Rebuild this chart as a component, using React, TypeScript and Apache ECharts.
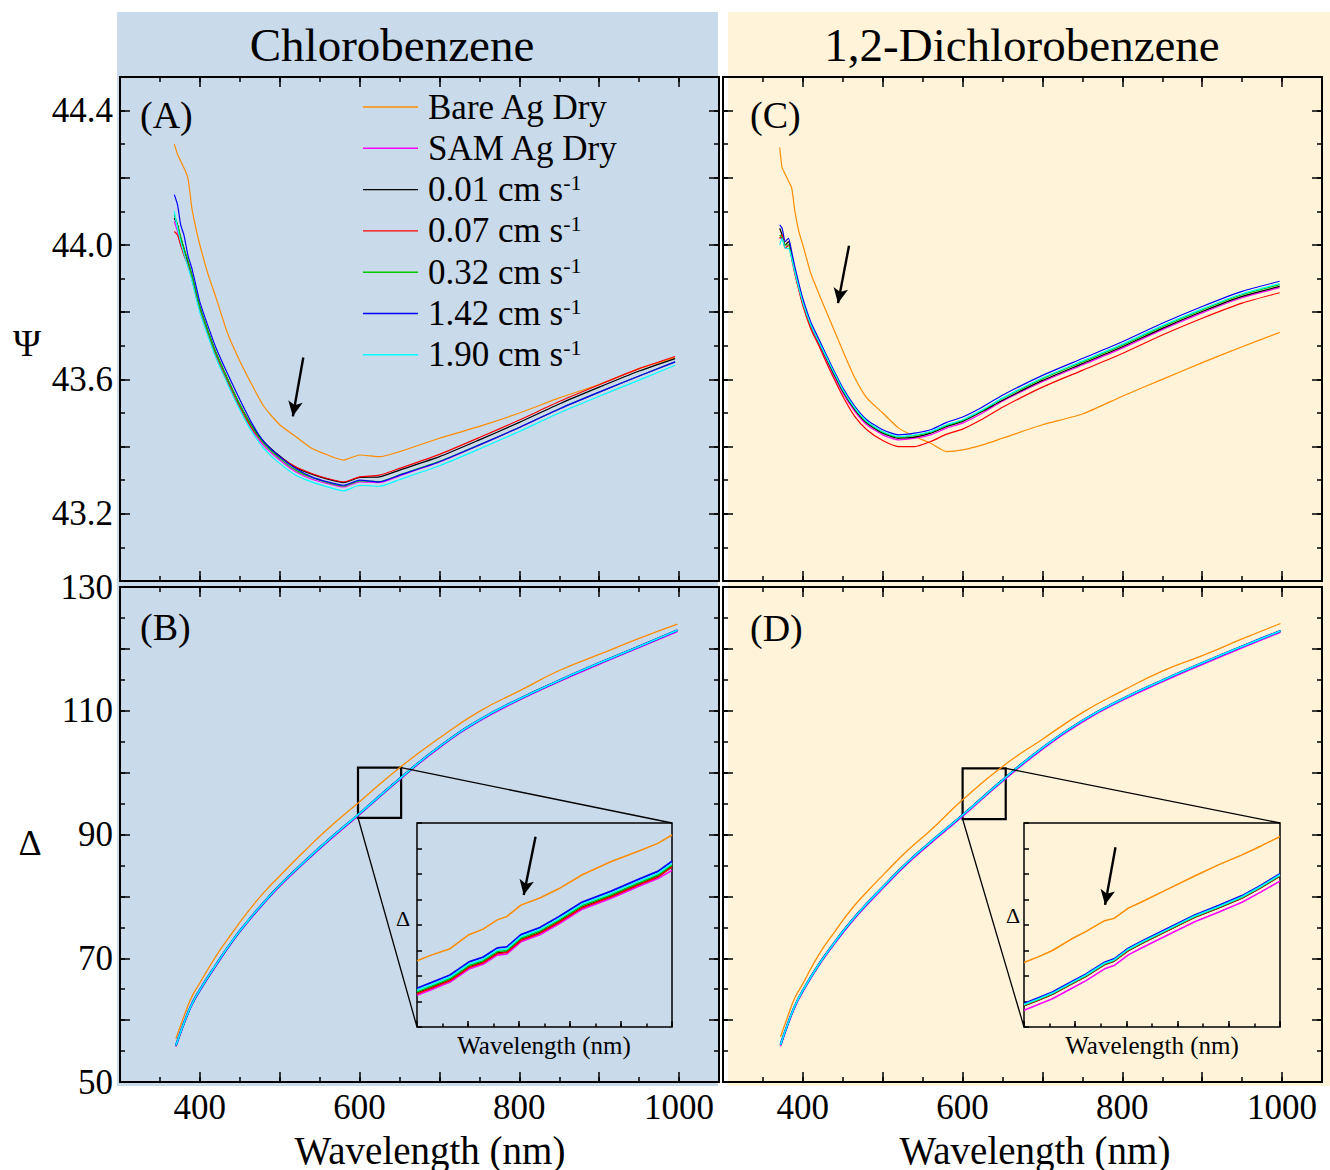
import React, { useEffect, useRef } from "react";
import * as echarts from "echarts";

const FONT = "'Liberation Serif', 'Times New Roman', Times, serif";

const SERIES_NAMES = ["Bare Ag Dry", "SAM Ag Dry", "0.01 cm s-1", "0.07 cm s-1", "0.32 cm s-1", "1.42 cm s-1", "1.90 cm s-1"];
const SERIES_COLORS = ["#ff8c00", "#ff00ff", "#000000", "#ff0000", "#00c800", "#0000ff", "#00ffff"];

const PANEL_TITLES = ["Chlorobenzene", "1,2-Dichlorobenzene"];
const PANEL_LETTERS = ["(A)", "(B)", "(C)", "(D)"];

const X_TICK_LABELS = [400, 600, 800, 1000];
const PSI_TICK_LABELS = [43.2, 43.6, 44.0, 44.4];
const DELTA_TICK_LABELS = [50, 70, 90, 110, 130];

// ---------- Panel A : Psi, chlorobenzene ----------
const PSI_WL_A = [368, 372, 376, 380, 385, 390, 395, 400, 410, 420, 435, 450, 465, 480, 500, 520, 540, 560, 580, 600, 625, 650, 700, 750, 800, 850, 900, 950, 995];
const PSI_A_BARE = [44.30, 44.27, 44.25, 44.23, 44.20, 44.11, 44.05, 44.00, 43.915, 43.845, 43.735, 43.655, 43.585, 43.52, 43.465, 43.43, 43.395, 43.375, 43.36, 43.375, 43.37, 43.385, 43.425, 43.46, 43.50, 43.545, 43.585, 43.632, 43.665];
const PSI_A_SAM = [44.07, 44.04, 44.00, 43.975, 43.94, 43.90, 43.85, 43.805, 43.735, 43.67, 43.59, 43.515, 43.452, 43.403, 43.36, 43.325, 43.303, 43.29, 43.28, 43.295, 43.293, 43.313, 43.354, 43.404, 43.457, 43.512, 43.562, 43.61, 43.652];
const PSI_A_001 = [44.08, 44.06, 44.02, 43.99, 43.95, 43.91, 43.86, 43.815, 43.745, 43.68, 43.60, 43.525, 43.462, 43.415, 43.372, 43.338, 43.318, 43.303, 43.293, 43.308, 43.31, 43.33, 43.37, 43.42, 43.472, 43.527, 43.577, 43.625, 43.662];
const PSI_A_007 = [44.04, 44.03, 44.00, 43.97, 43.94, 43.90, 43.85, 43.805, 43.735, 43.67, 43.59, 43.515, 43.455, 43.41, 43.37, 43.34, 43.32, 43.305, 43.295, 43.31, 43.315, 43.335, 43.377, 43.427, 43.479, 43.534, 43.584, 43.632, 43.668];
const PSI_A_032 = [44.09, 44.06, 44.025, 43.99, 43.955, 43.91, 43.865, 43.815, 43.745, 43.68, 43.60, 43.525, 43.46, 43.41, 43.365, 43.33, 43.308, 43.293, 43.283, 43.298, 43.296, 43.316, 43.356, 43.405, 43.457, 43.512, 43.562, 43.61, 43.652];
const PSI_A_142 = [44.15, 44.12, 44.06, 44.03, 43.97, 43.93, 43.88, 43.83, 43.76, 43.695, 43.615, 43.54, 43.47, 43.415, 43.37, 43.335, 43.31, 43.295, 43.285, 43.30, 43.295, 43.315, 43.355, 43.405, 43.457, 43.512, 43.562, 43.61, 43.652];
const PSI_A_190 = [44.10, 44.05, 44.01, 43.975, 43.935, 43.895, 43.845, 43.80, 43.73, 43.665, 43.585, 43.51, 43.445, 43.395, 43.35, 43.315, 43.295, 43.28, 43.268, 43.285, 43.282, 43.302, 43.343, 43.393, 43.445, 43.50, 43.55, 43.598, 43.642];

// ---------- Panel C : Psi, 1,2-dichlorobenzene ----------
const PSI_WL_C = [371, 374, 378, 382, 386, 390, 395, 400, 410, 420, 435, 450, 465, 480, 500, 520, 540, 560, 580, 600, 625, 650, 700, 750, 800, 850, 900, 950, 997];
const PSI_C_BARE = [44.29, 44.23, 44.21, 44.19, 44.17, 44.10, 44.04, 44.00, 43.915, 43.855, 43.77, 43.685, 43.605, 43.545, 43.50, 43.455, 43.43, 43.41, 43.385, 43.39, 43.405, 43.425, 43.465, 43.497, 43.55, 43.60, 43.65, 43.697, 43.74];
const PSI_C_SAM = [44.02, 44.02, 43.99, 44.00, 43.96, 43.915, 43.868, 43.822, 43.755, 43.705, 43.63, 43.56, 43.505, 43.465, 43.435, 43.42, 43.425, 43.435, 43.455, 43.47, 43.50, 43.535, 43.593, 43.643, 43.693, 43.748, 43.798, 43.843, 43.873];
const PSI_C_001 = [44.05, 44.03, 44.00, 44.01, 43.97, 43.925, 43.875, 43.83, 43.76, 43.71, 43.635, 43.565, 43.51, 43.47, 43.44, 43.425, 43.428, 43.44, 43.46, 43.475, 43.505, 43.538, 43.597, 43.647, 43.697, 43.752, 43.802, 43.847, 43.877];
const PSI_C_007 = [44.02, 44.03, 43.99, 44.00, 43.96, 43.915, 43.865, 43.82, 43.75, 43.70, 43.622, 43.55, 43.49, 43.45, 43.418, 43.40, 43.40, 43.415, 43.437, 43.452, 43.482, 43.517, 43.577, 43.627, 43.677, 43.732, 43.782, 43.827, 43.858];
const PSI_C_032 = [44.03, 44.02, 44.00, 44.00, 43.965, 43.92, 43.875, 43.83, 43.762, 43.712, 43.638, 43.568, 43.513, 43.473, 43.443, 43.428, 43.433, 43.443, 43.463, 43.478, 43.508, 43.543, 43.602, 43.652, 43.702, 43.757, 43.807, 43.852, 43.882];
const PSI_C_142 = [44.06, 44.05, 44.01, 44.02, 43.98, 43.935, 43.885, 43.84, 43.77, 43.72, 43.645, 43.575, 43.52, 43.48, 43.45, 43.435, 43.44, 43.45, 43.472, 43.488, 43.518, 43.553, 43.612, 43.662, 43.712, 43.767, 43.817, 43.862, 43.892];
const PSI_C_190 = [44.00, 44.02, 43.99, 43.99, 43.96, 43.92, 43.872, 43.828, 43.762, 43.712, 43.64, 43.57, 43.515, 43.475, 43.445, 43.43, 43.435, 43.445, 43.465, 43.48, 43.51, 43.545, 43.605, 43.655, 43.705, 43.76, 43.81, 43.855, 43.885];

// ---------- Panel B : Delta, chlorobenzene ----------
const DELTA_WL_B = [370, 380, 390, 400, 420, 440, 460, 480, 500, 530, 560, 600, 650, 700, 750, 800, 850, 900, 950, 998];
const DELTA_B_BARE = [57.0, 60.6, 63.8, 66.0, 70.3, 74.0, 77.5, 80.6, 83.3, 87.2, 90.9, 95.3, 100.8, 105.6, 109.9, 113.2, 116.5, 119.1, 121.7, 124.0];
const DELTA_B_SAM = [55.7, 59.3, 62.4, 64.7, 68.7, 72.5, 75.8, 78.8, 81.6, 85.3, 88.8, 93.2, 98.8, 104.0, 108.3, 111.7, 114.7, 117.5, 120.2, 122.8];
const DELTA_B_FLOW = [55.9, 59.5, 62.6, 64.9, 68.9, 72.7, 76.0, 79.0, 81.8, 85.5, 89.0, 93.4, 99.0, 104.2, 108.5, 111.9, 114.9, 117.7, 120.4, 123.0];

// ---------- Panel D : Delta, 1,2-dichlorobenzene ----------
const DELTA_WL_D = [372, 380, 390, 400, 420, 440, 460, 480, 500, 530, 560, 600, 650, 700, 750, 800, 850, 900, 950, 998];
const DELTA_D_BARE = [57.3, 60.2, 63.6, 65.9, 70.6, 74.3, 77.8, 80.7, 83.4, 87.3, 90.7, 95.6, 101.0, 105.4, 109.7, 113.2, 116.4, 118.9, 121.6, 124.1];
const DELTA_D_SAM = [55.75, 58.75, 62.05, 64.55, 68.75, 72.35, 75.65, 78.55, 81.25, 85.15, 88.55, 92.9, 98.55, 103.75, 108.15, 111.65, 114.65, 117.45, 120.15, 122.65];
const DELTA_D_FLOW = [56.0, 59.0, 62.3, 64.8, 69.0, 72.6, 75.9, 78.8, 81.5, 85.4, 88.8, 93.15, 98.8, 104.0, 108.4, 111.9, 114.9, 117.7, 120.4, 122.9];

// ---------- Inset of B (zoom box) ----------
const BOX_B = [598, 652, 92.7, 100.8]; // xmin, xmax, ymin, ymax
const INSET_B_X = [596, 650]; // wavelength span shown in inset
const INSET_Y = [93, 101];
const INSET_B_WL = [596, 599, 603, 607, 610, 613, 615, 618, 622, 626, 631, 637, 643, 647, 650];
const INSET_B_BARE = [95.60, 95.82, 96.07, 96.62, 96.84, 97.20, 97.33, 97.78, 98.06, 98.42, 98.97, 99.48, 99.90, 100.20, 100.53];
const INSET_B_SAM = [94.24, 94.46, 94.76, 95.27, 95.46, 95.82, 95.86, 96.34, 96.62, 97.04, 97.62, 98.04, 98.52, 98.82, 99.14];
const INSET_B_001 = [94.32, 94.54, 94.84, 95.35, 95.54, 95.90, 95.94, 96.42, 96.70, 97.12, 97.70, 98.12, 98.60, 98.90, 99.30];
const INSET_B_007 = [94.30, 94.52, 94.82, 95.33, 95.52, 95.88, 95.92, 96.40, 96.68, 97.10, 97.68, 98.10, 98.58, 98.88, 99.28];
const INSET_B_032 = [94.38, 94.60, 94.90, 95.41, 95.60, 95.96, 96.00, 96.48, 96.76, 97.18, 97.76, 98.18, 98.66, 98.96, 99.36];
const INSET_B_142 = [94.52, 94.74, 95.04, 95.55, 95.74, 96.10, 96.14, 96.62, 96.90, 97.32, 97.90, 98.32, 98.80, 99.10, 99.50];
const INSET_B_190 = [94.44, 94.66, 94.96, 95.47, 95.66, 96.02, 96.06, 96.54, 96.82, 97.24, 97.82, 98.24, 98.72, 99.02, 99.42];

// ---------- Inset of D ----------
const BOX_D = [600, 654, 92.5, 100.7];
const INSET_D_X = [600, 654];
const INSET_D_WL = [600, 603, 606, 610, 613, 617, 619, 622, 625, 630, 636, 641, 646, 650, 654];
const INSET_D_BARE = [95.53, 95.75, 96.00, 96.45, 96.74, 97.17, 97.26, 97.66, 97.92, 98.38, 98.92, 99.36, 99.75, 100.10, 100.47];
const INSET_D_SAM = [93.66, 93.88, 94.11, 94.51, 94.81, 95.28, 95.41, 95.83, 96.12, 96.58, 97.13, 97.50, 97.89, 98.30, 98.72];
const INSET_D_001 = [93.83, 94.05, 94.28, 94.68, 94.98, 95.45, 95.58, 96.00, 96.29, 96.75, 97.30, 97.67, 98.06, 98.47, 98.92];
const INSET_D_007 = [93.84, 94.06, 94.29, 94.69, 94.99, 95.46, 95.59, 96.01, 96.30, 96.76, 97.31, 97.68, 98.07, 98.48, 98.93];
const INSET_D_032 = [93.86, 94.08, 94.31, 94.71, 95.01, 95.48, 95.61, 96.03, 96.32, 96.78, 97.33, 97.70, 98.09, 98.50, 98.95];
const INSET_D_142 = [93.92, 94.14, 94.37, 94.77, 95.07, 95.54, 95.67, 96.09, 96.38, 96.84, 97.39, 97.76, 98.15, 98.56, 99.01];
const INSET_D_190 = [93.88, 94.10, 94.33, 94.73, 95.03, 95.50, 95.63, 96.05, 96.34, 96.80, 97.35, 97.72, 98.11, 98.52, 98.97];

// ---------- Arrows (tail, head) in data coordinates ----------
const ARROW_A = [[529.5, 43.665], [516.4, 43.49]];
const ARROW_C = [[457.8, 43.998], [444.0, 43.827]];
const ARROW_INSET_B = [[621.1, 100.46], [618.6, 98.18]];
const ARROW_INSET_D = [[619.3, 100.05], [617.1, 97.79]];

const has = (list: number[], v: number) => list.some((t) => Math.abs(t - v) < 1e-6);

type Ax = any;
const xAxes: Ax[] = [];
const yAxes: Ax[] = [];

function tickAxis(kind: "x" | "y", grid: number, position: string, min: number, max: number, interval: number, len: number, showLine: boolean, labelFmt: ((v: number) => string) | null) {
  const ax: Ax = {
    type: "value",
    gridIndex: grid,
    position,
    min,
    max,
    interval,
    axisLine: { show: showLine, onZero: false, lineStyle: { color: "#000", width: 2 } },
    axisTick: { show: true, inside: true, length: len, lineStyle: { color: "#000", width: 1.5 } },
    splitLine: { show: false },
    axisLabel: labelFmt
      ? { show: true, color: "#000", fontSize: 35, fontFamily: FONT, margin: kind === "x" ? 8 : 7, formatter: labelFmt }
      : { show: false },
  };
  const arr = kind === "x" ? xAxes : yAxes;
  arr.push(ax);
  return arr.length - 1;
}

function mainAxes(grid: number, xLab: boolean, yMin: number, yMax: number, yLong: number, yShort: number, yFmt: ((v: number) => string) | null) {
  const xFmt = xLab ? (v: number) => (has(X_TICK_LABELS, v) ? String(v) : "") : null;
  const xi = tickAxis("x", grid, "bottom", 300, 1050, 100, 10, true, xFmt);
  tickAxis("x", grid, "bottom", 300, 1050, 50, 5, false, null);
  tickAxis("x", grid, "top", 300, 1050, 100, 10, true, null);
  tickAxis("x", grid, "top", 300, 1050, 50, 5, false, null);
  const yi = tickAxis("y", grid, "left", yMin, yMax, yLong, 10, true, yFmt);
  tickAxis("y", grid, "left", yMin, yMax, yShort, 5, false, null);
  tickAxis("y", grid, "right", yMin, yMax, yLong, 10, true, null);
  tickAxis("y", grid, "right", yMin, yMax, yShort, 5, false, null);
  return { xi, yi };
}

function insetAxes(grid: number, span: number) {
  const xi = tickAxis("x", grid, "bottom", 0, span, span / 5, 6, false, null);
  tickAxis("x", grid, "bottom", 0, span, span / 10, 3.5, false, null);
  const yi = tickAxis("y", grid, "left", 0, INSET_Y[1] - INSET_Y[0], 1, 5, false, null);
  return { xi, yi };
}

const psiFmt = (v: number) => (has(PSI_TICK_LABELS, v) ? v.toFixed(1) : "");
const deltaFmt = (v: number) => (has(DELTA_TICK_LABELS, v) ? String(Math.round(v)) : "");

const AX_A = mainAxes(0, false, 43.0, 44.5, 0.2, 0.1, psiFmt);
const AX_B = mainAxes(1, true, 50, 130, 10, 5, deltaFmt);
const AX_C = mainAxes(2, false, 43.0, 44.5, 0.2, 0.1, null);
const AX_D = mainAxes(3, true, 50, 130, 10, 5, null);
const AX_IB = insetAxes(4, INSET_B_X[1] - INSET_B_X[0]);
const AX_ID = insetAxes(5, INSET_D_X[1] - INSET_D_X[0]);

function line(name: string, color: string, xs: number[], ys: number[], ax: { xi: number; yi: number }, width: number, smooth: number, xShift = 0, yShift = 0, extra: any = {}) {
  return {
    type: "line",
    name,
    xAxisIndex: ax.xi,
    yAxisIndex: ax.yi,
    data: xs.map((x, i) => [x - xShift, ys[i] - yShift]),
    symbol: "none",
    showSymbol: false,
    silent: true,
    clip: true,
    smooth,
    lineStyle: { color, width },
    itemStyle: { color },
    emphasis: { disabled: true },
    ...extra,
  };
}

function arrowMark(a: number[][], xShift = 0, yShift = 0) {
  return {
    silent: true,
    animation: false,
    lineStyle: { color: "#000", width: 2.4, type: "solid" },
    label: { show: false },
    emphasis: { disabled: true },
    data: [
      [
        { coord: [a[0][0] - xShift, a[0][1] - yShift], symbol: "none" },
        { coord: [a[1][0] - xShift, a[1][1] - yShift], symbol: "arrow", symbolSize: [11, 15] },
      ],
    ],
  };
}

function boxMark(b: number[]) {
  return {
    silent: true,
    itemStyle: { color: "rgba(0,0,0,0)", borderColor: "#000", borderWidth: 2.2 },
    label: { show: false },
    emphasis: { disabled: true },
    data: [[{ coord: [b[0], b[3]] }, { coord: [b[1], b[2]] }]],
  };
}

const PSI_A = [PSI_A_BARE, PSI_A_SAM, PSI_A_001, PSI_A_007, PSI_A_032, PSI_A_142, PSI_A_190];
const PSI_C = [PSI_C_BARE, PSI_C_SAM, PSI_C_001, PSI_C_007, PSI_C_032, PSI_C_142, PSI_C_190];
const DELTA_B = [DELTA_B_BARE, DELTA_B_SAM, DELTA_B_FLOW, DELTA_B_FLOW, DELTA_B_FLOW, DELTA_B_FLOW, DELTA_B_FLOW];
const DELTA_D = [DELTA_D_BARE, DELTA_D_SAM, DELTA_D_FLOW, DELTA_D_FLOW, DELTA_D_FLOW, DELTA_D_FLOW, DELTA_D_FLOW];
const INSET_B = [INSET_B_BARE, INSET_B_SAM, INSET_B_001, INSET_B_007, INSET_B_032, INSET_B_142, INSET_B_190];
const INSET_D = [INSET_D_BARE, INSET_D_SAM, INSET_D_001, INSET_D_007, INSET_D_032, INSET_D_142, INSET_D_190];

const PSI_WIDTHS = [1.2, 1.2, 1.2, 1.2, 1.2, 1.2, 1.2];
const DELTA_WIDTHS = [1.3, 1.3, 1.2, 1.2, 1.2, 2.2, 1.6];
const INSET_WIDTHS = [1.5, 1.6, 1.6, 1.6, 1.6, 1.8, 1.6];

function buildSeries() {
  const s: any[] = [];
  SERIES_NAMES.forEach((n, i) => {
    s.push(line(n, SERIES_COLORS[i], PSI_WL_A, PSI_A[i], AX_A, PSI_WIDTHS[i], 0.2, 0, 0, i === 0 ? { markLine: arrowMark(ARROW_A) } : {}));
  });
  SERIES_NAMES.forEach((n, i) => {
    s.push(line(n, SERIES_COLORS[i], DELTA_WL_B, DELTA_B[i], AX_B, DELTA_WIDTHS[i], 0.5, 0, 0, i === 6 ? { markArea: boxMark(BOX_B) } : {}));
  });
  SERIES_NAMES.forEach((n, i) => {
    s.push(line(n, SERIES_COLORS[i], PSI_WL_C, PSI_C[i], AX_C, PSI_WIDTHS[i], 0.2, 0, 0, i === 0 ? { markLine: arrowMark(ARROW_C) } : {}));
  });
  SERIES_NAMES.forEach((n, i) => {
    s.push(line(n, SERIES_COLORS[i], DELTA_WL_D, DELTA_D[i], AX_D, DELTA_WIDTHS[i], 0.5, 0, 0, i === 6 ? { markArea: boxMark(BOX_D) } : {}));
  });
  SERIES_NAMES.forEach((n, i) => {
    s.push(line(n, SERIES_COLORS[i], INSET_B_WL, INSET_B[i], AX_IB, INSET_WIDTHS[i], 0, INSET_B_X[0], INSET_Y[0], i === 0 ? { markLine: arrowMark(ARROW_INSET_B, INSET_B_X[0], INSET_Y[0]) } : {}));
  });
  SERIES_NAMES.forEach((n, i) => {
    s.push(line(n, SERIES_COLORS[i], INSET_D_WL, INSET_D[i], AX_ID, INSET_WIDTHS[i], 0, INSET_D_X[0], INSET_Y[0], i === 0 ? { markLine: arrowMark(ARROW_INSET_D, INSET_D_X[0], INSET_Y[0]) } : {}));
  });
  return s;
}

function txt(id: string, text: string, x: number, y: number, size: number, align = "center") {
  return {
    id,
    type: "text",
    x,
    y,
    silent: true,
    z: 50,
    style: {
      text,
      fill: "#000",
      fontSize: size,
      fontFamily: FONT,
      textAlign: align,
      align,
      textVerticalAlign: "middle",
      verticalAlign: "middle",
    },
  };
}

export default function App() {
  const ref = useRef<HTMLDivElement>(null);
  useEffect(() => {
    if (!ref.current) return;
    const chart = echarts.init(ref.current, null, { renderer: "svg", width: 1330, height: 1170 });
    const option: any = {
      animation: false,
      textStyle: { fontFamily: FONT },
      grid: [
        { left: 120, top: 77, width: 599, height: 504 },
        { left: 120, top: 587, width: 599, height: 495 },
        { left: 723, top: 77, width: 599, height: 504 },
        { left: 723, top: 587, width: 599, height: 495 },
        { left: 417, top: 823, width: 255, height: 204, show: true, borderColor: "#000", borderWidth: 1.5, backgroundColor: "rgba(0,0,0,0)" },
        { left: 1024, top: 823, width: 256, height: 204, show: true, borderColor: "#000", borderWidth: 1.5, backgroundColor: "rgba(0,0,0,0)" },
      ],
      xAxis: xAxes,
      yAxis: yAxes,
      legend: {
        data: SERIES_NAMES,
        orient: "vertical",
        left: 363,
        top: 89,
        padding: 0,
        icon: "rect",
        itemWidth: 55,
        itemHeight: 1.4,
        itemGap: 5.3,
        selectedMode: false,
        formatter: (name: string) => (name.endsWith(" s-1") ? name.slice(0, -2) + "{sup|-1}" : name),
        textStyle: {
          color: "#000",
          fontSize: 35,
          fontFamily: FONT,
          lineHeight: 36,
          padding: [0, 0, 0, 5],
          rich: { sup: { fontSize: 22, fontFamily: FONT, color: "#000", verticalAlign: "top", lineHeight: 22 } },
        },
      },
      graphic: {
        elements: [
          { id: "bgL", type: "rect", z: -10, silent: true, shape: { x: 117, y: 12, width: 601, height: 1074 }, style: { fill: "#c9daea" } },
          { id: "bgR", type: "rect", z: -10, silent: true, shape: { x: 728, y: 12, width: 602, height: 1074 }, style: { fill: "#fff4d9" } },
          txt("t1", PANEL_TITLES[0], 392, 45, 47),
          txt("t2", PANEL_TITLES[1], 1022, 45, 47),
          txt("lA", PANEL_LETTERS[0], 140, 115, 38, "left"),
          txt("lB", PANEL_LETTERS[1], 140, 627, 38, "left"),
          txt("lC", PANEL_LETTERS[2], 750, 115, 38, "left"),
          txt("lD", PANEL_LETTERS[3], 750, 628, 38, "left"),
          txt("psi", "Ψ", 27, 343, 38),
          txt("del", "Δ", 30, 843, 36),
          txt("wl1", "Wavelength (nm)", 430, 1150, 39),
          txt("wl2", "Wavelength (nm)", 1035, 1150, 39),
          txt("idl1", "Δ", 403, 918, 22),
          txt("idl2", "Δ", 1013, 915, 22),
          txt("iwl1", "Wavelength (nm)", 544, 1045, 25),
          txt("iwl2", "Wavelength (nm)", 1152, 1045, 25),
        ],
      },
      series: buildSeries(),
    };
    chart.setOption(option);

    const px = (ax: { xi: number; yi: number }, p: number[]) => chart.convertToPixel({ xAxisIndex: ax.xi, yAxisIndex: ax.yi }, p) as number[];
    const bTR = px(AX_B, [BOX_B[1], BOX_B[3]]);
    const bBL = px(AX_B, [BOX_B[0], BOX_B[2]]);
    const ibTR = px(AX_IB, [INSET_B_X[1] - INSET_B_X[0], INSET_Y[1] - INSET_Y[0]]);
    const ibBL = px(AX_IB, [0, 0]);
    const dTR = px(AX_D, [BOX_D[1], BOX_D[3]]);
    const dBL = px(AX_D, [BOX_D[0], BOX_D[2]]);
    const idTR = px(AX_ID, [INSET_D_X[1] - INSET_D_X[0], INSET_Y[1] - INSET_Y[0]]);
    const idBL = px(AX_ID, [0, 0]);
    const conn = (id: string, a: number[], b: number[]) => ({
      id,
      type: "line",
      silent: true,
      z: 40,
      shape: { x1: a[0], y1: a[1], x2: b[0], y2: b[1] },
      style: { stroke: "#000", lineWidth: 1.3 },
    });
    chart.setOption({
      graphic: {
        elements: [conn("c1", bTR, ibTR), conn("c2", bBL, ibBL), conn("c3", dTR, idTR), conn("c4", dBL, idBL)],
      },
    });
    return () => chart.dispose();
  }, []);
  return <div ref={ref} style={{ position: "absolute", left: 0, top: 0, width: 1330, height: 1170 }} />;
}
